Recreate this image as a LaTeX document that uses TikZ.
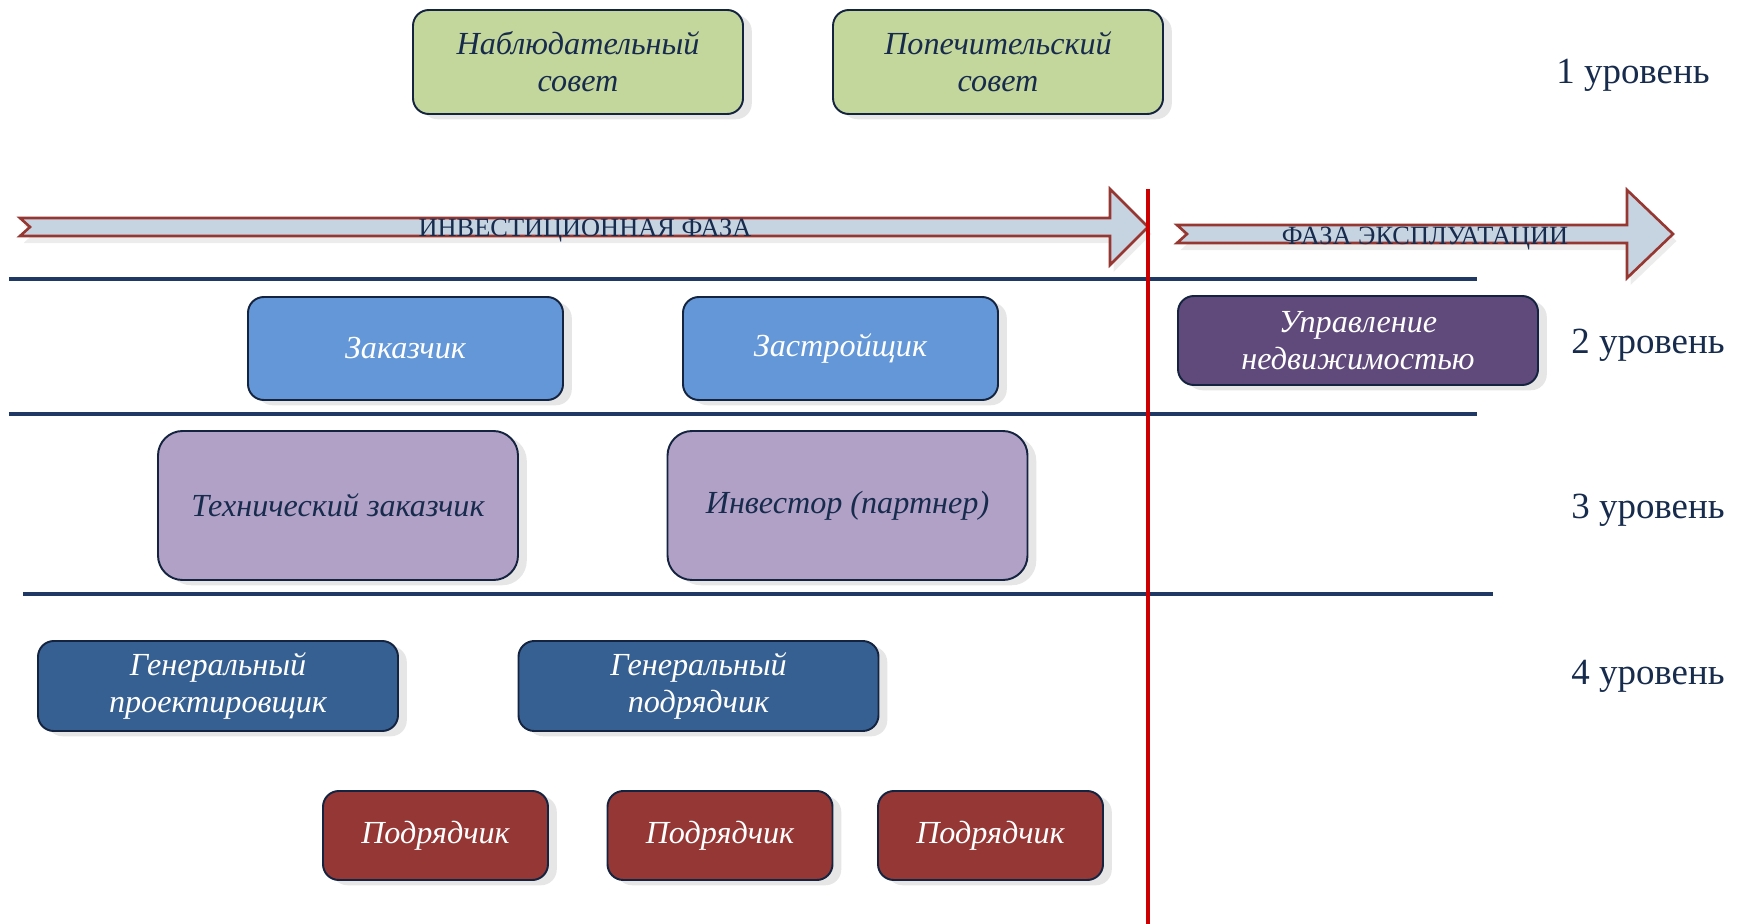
\documentclass[tikz,border=0pt]{standalone}
\usepackage{fontspec}
\setmainfont{Liberation Serif}
\usetikzlibrary{positioning, shadows}

\begin{document}
\begin{tikzpicture}[thick,
  blok/.style={draw=boxline, line width=1.1pt, rounded corners=9pt, align=center,
    font=\fontsize{18.3}{21}\selectfont\itshape,
    drop shadow={shadow xshift=5pt, shadow yshift=-3pt, opacity=0.2}},
  uroven/.style={font=\fontsize{21}{25}\selectfont, text=navytext},
  faza/.style={draw=arrowred, line width=1.5pt, fill=arrowfill,
    drop shadow={shadow xshift=2pt, shadow yshift=-4pt, opacity=0.15}},
  fazatext/.style={font=\fontsize{15}{17}\selectfont, text=navytext},
  granica/.style={draw=lineblue, line width=2.2pt}]
  \definecolor{boxline}{RGB}{20,36,64}
  \definecolor{navytext}{RGB}{23,43,77}
  \definecolor{lineblue}{RGB}{31,56,100}
  \definecolor{arrowred}{RGB}{150,55,50}
  \definecolor{arrowfill}{RGB}{198,211,225}
  \definecolor{sovetgreen}{RGB}{195,214,155}
  \definecolor{zakblue}{RGB}{99,151,216}
  \definecolor{uprpurple}{RGB}{96,74,123}
  \definecolor{lilac}{RGB}{178,161,199}
  \definecolor{genblue}{RGB}{54,96,146}
  \definecolor{podred}{RGB}{149,55,53}
  \definecolor{fazared}{RGB}{204,0,0}
  \useasboundingbox (0,0) rectangle (34.88,-18.48);

  \node[blok, fill=sovetgreen, text=navytext, minimum width=6.6cm, minimum height=2.08cm] (nabl) at (11.56,-1.24) {Наблюдательный\\совет};
  \node[blok, fill=sovetgreen, text=navytext, minimum width=6.6cm, minimum height=2.08cm] (popech) at (19.96,-1.24) {Попечительский\\совет};
  \node[uroven] (ur1) at (32.66,-1.51) {1 уровень};

  \draw[faza] (0.4,-4.36) -- (22.2,-4.36) -- (22.2,-3.78) -- (22.96,-4.54) -- (22.2,-5.30) -- (22.2,-4.72) -- (0.4,-4.72) -- (0.6,-4.54) -- cycle;
  \node[fazatext] (invest) at (11.7,-4.61) {ИНВЕСТИЦИОННАЯ ФАЗА};
  \draw[faza] (23.54,-4.50) -- (32.54,-4.50) -- (32.54,-3.80) -- (33.46,-4.68) -- (32.54,-5.56) -- (32.54,-4.86) -- (23.54,-4.86) -- (23.74,-4.68) -- cycle;
  \node[fazatext] (ekspl) at (28.5,-4.77) {ФАЗА ЭКСПЛУАТАЦИИ};

  \draw[granica] (0.18,-5.58) -- (29.54,-5.58);
  \draw[granica] (0.18,-8.28) -- (29.54,-8.28);
  \draw[granica] (0.46,-11.88) -- (29.86,-11.88);

  \node[blok, fill=zakblue, text=white, minimum width=6.3cm, minimum height=2.06cm] (zakazchik) at (8.11,-6.97) {Заказчик};
  \node[blok, fill=zakblue, text=white, minimum width=6.3cm, minimum height=2.06cm] (zastr) at (16.81,-6.97) {Застройщик};
  \node[blok, fill=uprpurple, text=white, minimum width=7.2cm, minimum height=1.78cm] (upravl) at (27.16,-6.81) {Управление\\недвижимостью};
  \node[uroven] (ur2) at (32.96,-6.91) {2 уровень};

  \node[blok, fill=lilac, text=navytext, rounded corners=14pt, minimum width=7.2cm, minimum height=2.98cm] (tehzak) at (6.76,-10.11) {Технический заказчик};
  \node[blok, fill=lilac, text=navytext, rounded corners=14pt, minimum width=7.2cm, minimum height=2.98cm] (investor) at (16.95,-10.11) {Инвестор (партнер)};
  \node[uroven] (ur3) at (32.96,-10.21) {3 уровень};

  \node[blok, fill=genblue, text=white, minimum width=7.2cm, minimum height=1.8cm] (genproekt) at (4.36,-13.72) {Генеральный\\проектировщик};
  \node[blok, fill=genblue, text=white, minimum width=7.2cm, minimum height=1.8cm] (genpodr) at (13.97,-13.72) {Генеральный\\подрядчик};
  \node[uroven] (ur4) at (32.96,-13.53) {4 уровень};

  \node[blok, fill=podred, text=white, minimum width=4.5cm, minimum height=1.78cm] (podr1) at (8.71,-16.71) {Подрядчик};
  \node[blok, fill=podred, text=white, minimum width=4.5cm, minimum height=1.78cm] (podr2) at (14.40,-16.71) {Подрядчик};
  \node[blok, fill=podred, text=white, minimum width=4.5cm, minimum height=1.78cm] (podr3) at (19.81,-16.71) {Подрядчик};

  \draw[fazared, line width=2.6pt] (22.96,-3.78) -- (22.96,-18.48);
\end{tikzpicture}
\end{document}
